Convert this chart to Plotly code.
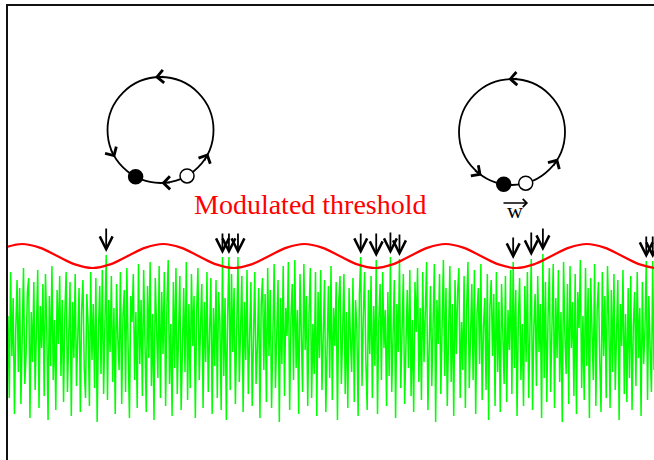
import math
import plotly.graph_objects as go

# ---------------- data ----------------
DT = 0.2  # sampling step of the membrane signal (time units)

signal = [
    1.2, -2.9, 3.4, -0.8, 2.1, -3.7, 0.5, 3.0, -1.6, 2.6, -3.2, 0.9, 3.6, -2.2, -0.7, 2.4, 3.1, -3.9, 1.4, -1.1,
    2.9, -2.5, 0.3, 3.5, -3.4, 1.7, -0.4, 2.8, -2.8, 3.3, 0.6, -4.0, 2.2, -1.3, 3.7, -2.0, 1.0, -3.5, 2.5, -0.2,
    3.2, -1.8, 2.0, -3.1, 1.3, 3.4, -2.6, 0.7, 2.9, -3.8, 1.9, -0.9, 3.3, -2.3, 0.2, 2.6, -3.6, 1.5, 3.0, -1.4,
    -2.9, 2.3, 0.8, -3.3, 3.4, -1.0, 1.8, -2.4, 3.1, -4.1, 0.4, 2.7, -1.7, 3.5, -2.7, 1.1, 4.25, -3.0, 2.0, -0.6,
    3.2, -2.1, 1.6, -3.7, 2.8, 0.1, -1.5, 3.4, -3.2, 1.2, 2.5, -2.6, 3.6, -0.5, -3.9, 2.2, 0.9, 3.3, -2.0, 1.4,
    -3.4, 3.8, -1.2, 2.0, -2.8, 3.5, 0.6, -3.6, 2.7, -0.9, 3.9, -2.3, 1.3, -4.0, 3.1, 0.3, -1.9, 3.7, -2.9, 2.4,
    -0.7, 3.4, -3.3, 1.7, 4.0, -2.2, 0.8, -3.8, 2.9, -1.4, 3.6, -2.7, 1.1, 3.2, -3.5, 0.5, 2.6, -1.6, 3.9, -3.0,
    1.8, -2.4, 3.3, -0.3, 2.2, -3.9, 1.4, 3.6, -2.0, 0.7, 2.8, -3.4, 1.9, -1.1, 3.4, -2.6, 0.2, 3.1, -3.7, 1.6,
    -1.3, 3.0, -2.9, 2.4, 0.9, -3.5, 4.15, -1.8, 2.1, -4.0, 1.2, 4.15, -2.5, 3.3, -0.6, 2.6, -3.2, 1.5, 4.15, -2.1,
    0.6, 3.2, -3.6, 1.9, -1.0, 3.5, -2.7, 0.4, 2.9, -3.3, 1.3, 3.4, -2.2, -0.4, 2.6, -3.9, 1.8, 3.1, -1.5, 2.3,
    -3.1, 3.6, -0.8, 2.5, -3.4, 1.0, 3.8, -2.4, 0.3, 3.0, -4.1, 2.1, -1.2, 3.7, -2.8, 1.6, 0.2, 3.9, -3.5, 1.1,
    2.8, -2.0, 4.0, -1.4, 1.5, -3.7, 3.3, 0.7, -2.6, 3.8, -0.5, 2.2, -3.3, 1.3, 3.6, -2.9, 0.8, -1.7, 3.4, -3.8,
    2.4, -0.9, 3.5, -2.5, 1.1, 3.0, -3.6, 0.5, 2.7, -1.9, 3.7, -3.0, 1.6, -0.3, 2.9, -4.0, 1.9, 3.2, -2.2, 0.4,
    3.3, -2.7, 1.4, -3.4, 2.6, 0.1, -1.6, 3.1, -3.1, 2.0, 0.6, -3.8, 2.3, 4.15, -2.3, 1.2, 3.4, -1.1, -3.5, 2.5,
    -0.7, 3.2, -2.9, 1.7, -1.3, 4.0, -3.7, 0.9, 2.8, -2.0, 3.4, -0.4, 1.5, -3.3, 2.4, -1.8, 4.15, -2.6, 0.3, 3.0,
    -3.9, 1.8, -0.6, 4.05, -2.4, 1.2, 3.3, -3.2, 0.7, 2.5, -1.4, 3.5, -2.8, 1.0, -3.6, 2.9, 0.4, 3.6, -2.1, 1.6,
    -3.0, 3.4, -1.1, 2.2, 3.9, -3.5, 0.8, 2.7, -2.3, 1.4, 3.8, -4.1, 2.0, -0.2, 3.3, -2.7, 1.1, 4.0, -1.8, 2.6,
    -3.3, 0.5, 3.7, -2.1, 1.8, -3.8, 3.0, -0.7, 2.4, 3.6, -2.9, 0.9, -1.5, 3.2, -3.4, 1.6, 3.9, -2.4, 0.2, 2.8,
    -2.0, 3.5, -3.7, 1.3, 2.6, -1.2, 3.8, -3.0, 0.6, 2.1, -2.5, 3.3, -4.0, 1.7, 3.0, -0.8, 2.3, -3.3, 3.4, -1.6,
    1.9, -3.6, 2.8, 0.4, -2.2, 3.2, -3.1, 1.5, -0.5, 3.5, -2.7, 3.9, -1.4, 2.5, -3.8, 1.0, 3.1, -2.0, 0.8, -3.3,
    2.7, -1.1, 3.4, -2.9, 1.6, 4.05, -3.5, 0.7, 2.3, -2.3, 3.2, -0.6, 1.8, -3.9, 4.3, -1.9, 2.9, -3.1, 1.2, 3.6,
    -2.6, 0.9, 3.8, -3.4, 2.1, -0.9, 3.5, -2.1, 1.4, -4.1, 3.9, 0.3, -1.7, 2.8, -3.2, 3.7, -0.4, 1.9, -2.8, 3.3,
    -3.7, 2.4, 0.6, 4.0, -2.4, 1.2, -3.0, 3.6, -1.3, 2.6, -3.9, 3.1, 0.9, -2.0, 3.8, -3.3, 1.5, 2.9, -1.0, -3.6,
    3.4, -0.8, 2.2, -2.9, 3.7, 1.1, -3.4, 2.5, -1.6, 3.3, -2.5, 0.4, 3.0, -4.0, 1.8, -0.3, 3.5, -2.7, 1.3, -3.1,
    2.6, -1.9, 3.2, -3.5, 0.7, 2.4, -2.3, 3.4, -0.9, 1.6, -3.8, 2.9, -1.2, 0.5, 3.95, -3.0, 2.2, -0.4, -2.6, 3.95,
    -1.5,
]
signal_t = [i * DT for i in range(len(signal))]

threshold_t = [
    -0.57, 2.16, 4.89, 7.62, 10.36, 13.09, 15.82, 18.55, 21.29, 24.02, 26.75, 29.48, 32.22,
    34.95, 37.68, 40.41, 43.15, 45.88, 48.61, 51.34, 54.08, 56.81, 59.54, 62.27, 65.01, 67.74,
    70.47, 73.20, 75.94, 78.67, 81.40, 84.13, 86.87, 89.60, 92.33, 95.06, 97.80, 100.53, 103.26,
]
threshold_v = [
    4.62, 4.80, 4.62, 4.20, 3.78, 3.60, 3.78, 4.20, 4.62, 4.80, 4.62, 4.20, 3.78,
    3.60, 3.78, 4.20, 4.62, 4.80, 4.62, 4.20, 3.78, 3.60, 3.78, 4.20, 4.62, 4.80,
    4.62, 4.20, 3.78, 3.60, 3.78, 4.20, 4.62, 4.80, 4.62, 4.20, 3.78, 3.60, 3.78,
]

# threshold-crossing events (arrows)
event_t = [15.2, 33.2, 34.2, 35.6, 54.6, 57.0, 59.2, 60.6, 78.2, 81.0, 82.8, 98.8, 99.8]
event_top = [5.65, 5.4, 5.4, 5.4, 5.4, 5.4, 5.45, 5.35, 5.2, 5.45, 5.65, 5.25, 5.25]
event_tip = [4.4, 4.3, 4.3, 4.3, 4.3, 4.15, 4.3, 4.2, 4.05, 4.2, 4.45, 4.1, 4.1]

label_main = "Modulated threshold"
label_w = "w"

# ---------------- layout constants ----------------
W, H = 654, 460
ML, MT = 8, 6
X_RANGE = [0, 100]
Y_RANGE = [-6.0, 16.7]
SX = (W - ML) / (X_RANGE[1] - X_RANGE[0])  # px per x unit
SY = (H - MT) / (Y_RANGE[1] - Y_RANGE[0])  # px per y unit

fig = go.Figure()

fig.add_trace(go.Scatter(
    x=signal_t, y=signal, mode="lines",
    line=dict(color="#00ff00", width=1.5),
    hoverinfo="skip", showlegend=False,
))
fig.add_trace(go.Scatter(
    x=threshold_t, y=threshold_v, mode="lines",
    line=dict(color="#ff0000", width=2.2, shape="spline", smoothing=1.0),
    hoverinfo="skip", showlegend=False,
))

annotations = []
for t, top, tip in zip(event_t, event_top, event_tip):
    annotations.append(dict(
        x=t, y=tip, ax=t, ay=top, xref="x", yref="y", axref="x", ayref="y",
        text="", showarrow=True, arrowhead=5, arrowsize=1.4, arrowwidth=1.8,
        arrowcolor="black", standoff=0,
    ))

# ---- limit-cycle diagrams ----
R_PX = 53
diagrams = [
    dict(c=(23.61, 10.5), dots=(242, 300), arrows=[(96, 1), (211, 1), (271, -1), (334, 1)]),
    dict(c=(78.02, 10.4), dots=(261, 285), arrows=[(94, 1), (235, 1), (330, 1)]),
]
shapes = []
for d in diagrams:
    cx, cy = d["c"]
    shapes.append(dict(
        type="circle", xref="x", yref="y", layer="below",
        x0=cx - R_PX / SX, x1=cx + R_PX / SX, y0=cy - R_PX / SY, y1=cy + R_PX / SY,
        line=dict(color="black", width=1.8),
    ))
    for ang, direc in d["arrows"]:
        a = math.radians(ang)
        L = 10
        annotations.append(dict(
            x=cx + R_PX * math.cos(a) / SX, y=cy + R_PX * math.sin(a) / SY,
            xref="x", yref="y", ax=L * direc * math.sin(a), ay=L * direc * math.cos(a),
            text="", showarrow=True, arrowhead=4, arrowsize=1.8, arrowwidth=1.4,
            arrowcolor="black", standoff=0,
        ))
    fa, oa = [math.radians(v) for v in d["dots"]]
    fig.add_trace(go.Scatter(
        x=[cx + R_PX * math.cos(fa) / SX], y=[cy + R_PX * math.sin(fa) / SY], mode="markers",
        marker=dict(size=14, color="black", line=dict(color="black", width=1.5)),
        hoverinfo="skip", showlegend=False,
    ))
    fig.add_trace(go.Scatter(
        x=[cx + R_PX * math.cos(oa) / SX], y=[cy + R_PX * math.sin(oa) / SY], mode="markers",
        marker=dict(size=14, color="white", line=dict(color="black", width=1.5)),
        hoverinfo="skip", showlegend=False,
    ))

annotations.append(dict(
    x=46.9, y=6.78, xref="x", yref="y", text=label_main, showarrow=False,
    font=dict(family="Liberation Serif", size=28, color="#ff0000"),
))
annotations.append(dict(
    x=78.48, y=6.47, xref="x", yref="y", text=label_w, showarrow=False,
    font=dict(family="Liberation Serif", size=22, color="black"),
))
annotations.append(dict(
    x=80.5, y=6.85, ax=76.47, ay=6.85, xref="x", yref="y", axref="x", ayref="y",
    text="", showarrow=True, arrowhead=4, arrowsize=1.2, arrowwidth=1.3,
    arrowcolor="black", standoff=0,
))

fig.update_layout(
    width=W, height=H,
    margin=dict(l=ML, r=0, t=MT, b=0, pad=0),
    paper_bgcolor="white", plot_bgcolor="white",
    shapes=shapes, annotations=annotations,
    xaxis=dict(range=X_RANGE, side="top", showline=True, linecolor="#111", linewidth=1.5,
               showgrid=False, zeroline=False, showticklabels=False, ticks=""),
    yaxis=dict(range=Y_RANGE, showline=True, linecolor="#111", linewidth=1.5,
               showgrid=False, zeroline=False, showticklabels=False, ticks=""),
    showlegend=False,
)

fig.write_html("out.html")
